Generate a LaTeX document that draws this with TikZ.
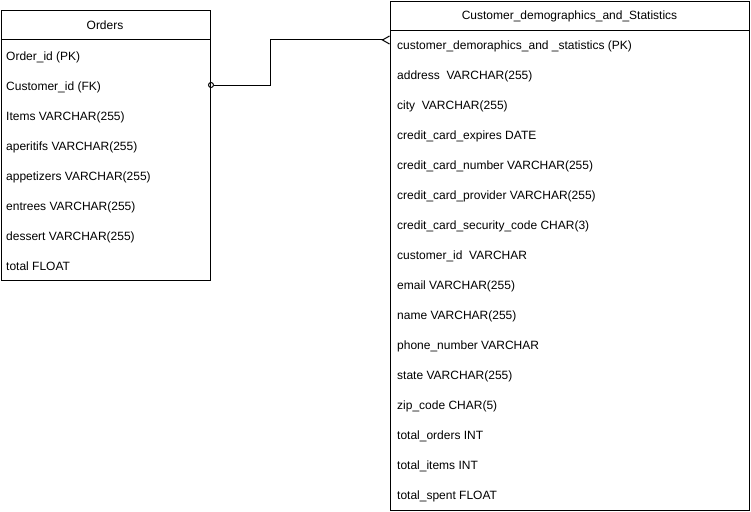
\documentclass[tikz,border=0pt]{standalone}
\usepackage{fontspec}
\setmainfont{Liberation Sans}
\usetikzlibrary{arrows.meta,calc}

\tikzset{
	entity/.style={draw, line width=1pt, inner sep=0pt, anchor=north west},
	title/.style={anchor=base, inner sep=0pt, font=\fontsize{12}{14}\selectfont},
	field/.style={anchor=base west, inner sep=0pt, font=\fontsize{12}{14}\selectfont},
}

\begin{document}
\begin{tikzpicture}[x=1pt,y=-1pt]
		\useasboundingbox (0,0) rectangle (751,511);
		
		% Orders table
		\node[entity, minimum width=209.5pt, minimum height=270pt] (ordbox) at (0.5,10) {};
		\draw[line width=1pt] (ordbox.west|-0,40) -- (ordbox.east|-0,40);
		\node[title] (orders) at (105,29.3) {Orders};
		\foreach \t [count=\i] in {Order\_id (PK), Customer\_id (FK), Items VARCHAR(255),
			aperitifs VARCHAR(255), appetizers VARCHAR(255), entrees VARCHAR(255),
			dessert VARCHAR(255), total FLOAT}{
			\node[field] (o\i) at (6,30.7+30*\i) {\t};
		}
		
		% Customer table
		\node[entity, minimum width=359pt, minimum height=509pt] (custbox) at (390,1) {};
		\draw[line width=1pt] (custbox.west|-0,31) -- (custbox.east|-0,31);
		\node[title] (customer) at (569.5,19.5) {Customer\_demographics\_and\_Statistics};
		\foreach \t [count=\i] in {customer\_demoraphics\_and \_statistics (PK),
			address\ \ VARCHAR(255), city\ \ VARCHAR(255), credit\_card\_expires DATE,
			credit\_card\_number VARCHAR(255), credit\_card\_provider VARCHAR(255),
			credit\_card\_security\_code CHAR(3), customer\_id\ \ VARCHAR,
			email VARCHAR(255), name VARCHAR(255), phone\_number VARCHAR,
			state VARCHAR(255), zip\_code CHAR(5), total\_orders INT,
			total\_items INT, total\_spent FLOAT}{
			\node[field] (c\i) at (397,19.5+30*\i) {\t};
		}
		
		% relation
		\coordinate (ordfk) at (ordbox.east|-0,85);
		\coordinate (custpk) at (custbox.west|-0,40);
		\draw[line width=1pt, {Circle[open,length=6pt]}-{Straight Barb[reversed,length=7pt,width=8pt]}]
			($(ordfk)+(-3,0)$) -- (270,0|-ordfk) -- (270,0|-custpk) -- (custpk);
	\end{tikzpicture}
\end{document}
